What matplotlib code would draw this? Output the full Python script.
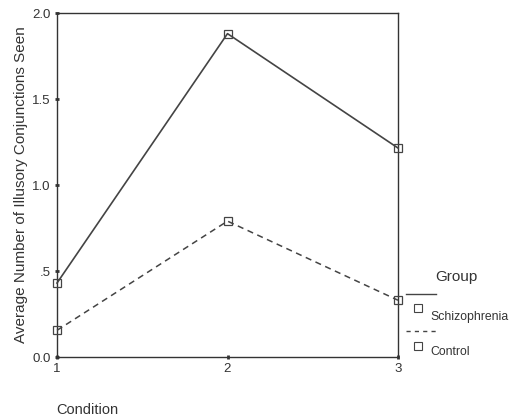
import matplotlib
matplotlib.use("Agg")
import matplotlib.pyplot as plt
from matplotlib.lines import Line2D

plt.rcParams['font.family'] = ['Liberation Sans', 'DejaVu Sans']

conditions = [1, 2, 3]
schizophrenia = [0.43, 1.88, 1.215]
control = [0.155, 0.79, 0.33]
yticks = [0.0, 0.5, 1.0, 1.5, 2.0]
ytick_labels = ["0.0", ".5", "1.0", "1.5", "2.0"]
xtick_labels = ["1", "2", "3"]

fig = plt.figure(figsize=(5.12, 4.2), dpi=100)
ax = fig.add_axes([57/512, 63/420, 341/512, 344/420])
lc = "#444444"
ax.plot(conditions, schizophrenia, color=lc, lw=1.2, ls='-', marker='s', clip_on=False,
        markersize=6, markerfacecolor='none', markeredgecolor=lc, markeredgewidth=0.9, zorder=3)
ax.plot(conditions, control, color=lc, lw=1.1, ls=(0, (4, 3)), marker='s', clip_on=False,
        markersize=6, markerfacecolor='none', markeredgecolor=lc, markeredgewidth=0.9, zorder=3)
ax.set_xlim(1, 3)
ax.set_ylim(0, 2.0)
ax.set_yticks(yticks)
ax.set_yticklabels(ytick_labels)
ax.set_xticks(conditions)
ax.set_xticklabels(xtick_labels)
for s in ax.spines.values():
    s.set_color("#333333")
    s.set_linewidth(1.0)
ax.tick_params(axis='both', direction='inout', length=3, width=2, color="#333333",
               labelsize=9.5, labelcolor="#333333", pad=3)
ax.set_ylabel("Average Number of Illusory Conjunctions Seen", fontsize=11, color="#333333", labelpad=3)
fig.text(56/512, 1 - 410/420, "Condition", fontsize=10.5, color="#333333", ha='left', va='center')

# legend drawn manually outside the axes
fig.text(456/512, 1 - 277/420, "Group", fontsize=11, color="#333333", ha='center', va='center')
fig.add_artist(Line2D([406/512, 436/512], [1 - 294/420, 1 - 294/420], color=lc, lw=1.0))
fig.add_artist(Line2D([418/512], [1 - 308/420], marker='s', markersize=5.5, markerfacecolor='white',
                      markeredgecolor=lc, markeredgewidth=0.8, ls='none'))
fig.text(430/512, 1 - 317/420, "Schizophrenia", fontsize=8.8, color="#333333", ha='left', va='center')
fig.add_artist(Line2D([406/512, 436/512], [1 - 331/420, 1 - 331/420], color=lc, lw=1.0, ls=(0, (3, 3))))
fig.add_artist(Line2D([418/512], [1 - 346/420], marker='s', markersize=5.5, markerfacecolor='white',
                      markeredgecolor=lc, markeredgewidth=0.8, ls='none'))
fig.text(430/512, 1 - 352/420, "Control", fontsize=8.8, color="#333333", ha='left', va='center')

fig.savefig("out.png", dpi=100)
